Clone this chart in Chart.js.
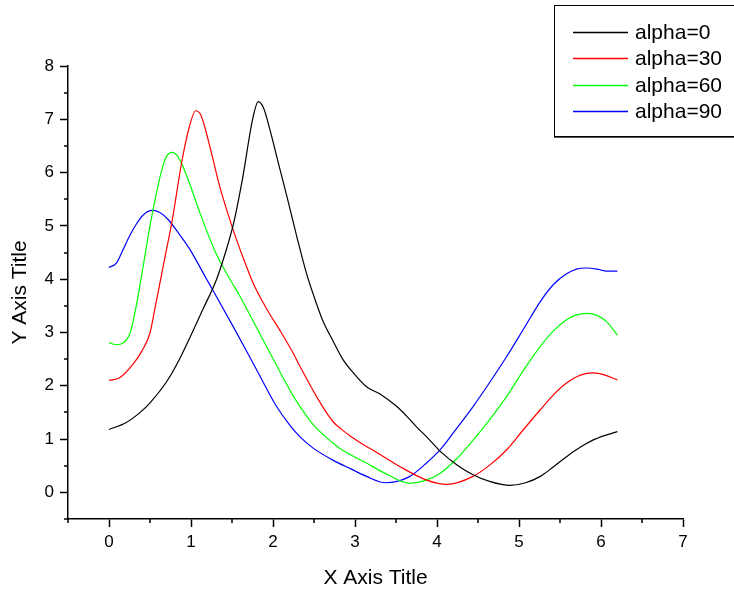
<!DOCTYPE html>
<html>
<head>
<meta charset="utf-8">
<script src="https://cdn.jsdelivr.net/npm/chart.js@4/dist/chart.umd.min.js"></script>
<style>
  html, body { margin: 0; padding: 0; background: #fff; }
  #wrap { width: 734px; height: 592px; position: relative; }
</style>
</head>
<body>
<div id="wrap"><canvas id="c" width="734" height="592"></canvas></div>
<script>
// ---- data ----
const seriesNames = ['alpha=0', 'alpha=30', 'alpha=60', 'alpha=90'];
const seriesColors = ['#000000', '#ff0000', '#00ff00', '#0000ff'];

const alpha0X = [0, 0.2, 0.38, 0.5, 0.7, 0.85, 1.0, 1.15, 1.31, 1.42, 1.52, 1.63, 1.75, 1.82, 1.885, 1.963, 2.07, 2.17, 2.29, 2.41, 2.49, 2.6, 2.735, 2.85, 2.98, 3.14, 3.3, 3.51, 3.63, 3.75, 3.9, 4.04, 4.24, 4.44, 4.65, 4.89, 5.08, 5.26, 5.42, 5.58, 5.75, 5.9, 6.05, 6.2];
const alpha0Y = [1.18, 1.3, 1.5, 1.68, 2.07, 2.47, 2.95, 3.45, 3.99, 4.5, 5.05, 5.9, 6.99, 7.33, 7.21, 6.8, 6.15, 5.55, 4.8, 4.1, 3.72, 3.25, 2.83, 2.5, 2.24, 1.98, 1.85, 1.61, 1.43, 1.23, 1.0, 0.77, 0.52, 0.33, 0.2, 0.13, 0.18, 0.3, 0.48, 0.67, 0.85, 0.98, 1.07, 1.14];

const alpha30X = [0, 0.13, 0.3, 0.4, 0.5, 0.56, 0.62, 0.7, 0.765, 0.885, 0.98, 1.057, 1.12, 1.23, 1.35, 1.515, 1.6, 1.76, 1.92, 2.1, 2.25, 2.33, 2.53, 2.65, 2.735, 2.82, 2.95, 3.14, 3.22, 3.55, 3.875, 4.12, 4.44, 4.65, 4.85, 5.05, 5.26, 5.42, 5.58, 5.75, 5.9, 6.05, 6.2];
const alpha30Y = [2.1, 2.15, 2.42, 2.65, 2.99, 3.45, 3.92, 4.55, 5.05, 6.18, 6.86, 7.16, 7.08, 6.49, 5.74, 4.92, 4.55, 3.92, 3.45, 3.0, 2.6, 2.36, 1.8, 1.5, 1.32, 1.2, 1.05, 0.86, 0.79, 0.48, 0.23, 0.15, 0.3, 0.52, 0.8, 1.17, 1.55, 1.83, 2.05, 2.2, 2.24, 2.2, 2.11];

const alpha60X = [0, 0.09, 0.17, 0.26, 0.32, 0.39, 0.5, 0.634, 0.7, 0.77, 0.845, 0.95, 1.11, 1.3, 1.475, 1.6, 1.92, 2.25, 2.33, 2.49, 2.735, 2.82, 3.14, 3.4, 3.67, 3.85, 4.04, 4.24, 4.44, 4.65, 4.85, 5.05, 5.26, 5.42, 5.58, 5.7, 5.825, 5.95, 6.07, 6.2];
const alpha60Y = [2.81, 2.77, 2.8, 3.0, 3.4, 4.0, 5.0, 5.99, 6.3, 6.38, 6.29, 5.93, 5.24, 4.5, 4.0, 3.67, 2.74, 1.8, 1.61, 1.27, 0.92, 0.82, 0.55, 0.33, 0.17, 0.22, 0.36, 0.63, 0.98, 1.38, 1.8, 2.28, 2.74, 3.03, 3.24, 3.33, 3.36, 3.32, 3.2, 2.95];

const alpha90X = [0, 0.09, 0.17, 0.26, 0.34, 0.42, 0.53, 0.62, 0.72, 0.85, 0.99, 1.19, 1.25, 1.515, 1.8, 2.04, 2.2, 2.33, 2.49, 2.735, 2.95, 3.14, 3.37, 3.5, 3.67, 3.85, 4.04, 4.24, 4.44, 4.65, 4.85, 5.05, 5.26, 5.42, 5.58, 5.7, 5.82, 5.95, 6.07, 6.2];
const alpha90Y = [4.22, 4.3, 4.55, 4.84, 5.05, 5.21, 5.29, 5.25, 5.12, 4.86, 4.55, 4.0, 3.84, 3.11, 2.3, 1.62, 1.27, 1.04, 0.83, 0.6, 0.44, 0.3, 0.18, 0.2, 0.3, 0.52, 0.8, 1.2, 1.61, 2.08, 2.55, 3.05, 3.58, 3.9, 4.1, 4.19, 4.21, 4.19, 4.15, 4.15];

const xTickValues = [0, 1, 2, 3, 4, 5, 6, 7];
const yTickValues = [0, 1, 2, 3, 4, 5, 6, 7, 8];
const xMinorTicks = [-0.5, 0.5, 1.5, 2.5, 3.5, 4.5, 5.5, 6.5];
const yMinorTicks = [-0.5, 0.5, 1.5, 2.5, 3.5, 4.5, 5.5, 6.5, 7.5];
const xTitle = 'X Axis Title';
const yTitle = 'Y Axis Title';

// ---- build datasets ----
const allX = [alpha0X, alpha30X, alpha60X, alpha90X];
const allY = [alpha0Y, alpha30Y, alpha60Y, alpha90Y];
const datasets = seriesNames.map((name, i) => ({
  label: name,
  data: allX[i].map((x, k) => ({ x: x, y: allY[i][k] })),
  borderColor: seriesColors[i],
  backgroundColor: seriesColors[i],
  borderWidth: 1.2,
  pointRadius: 0,
  cubicInterpolationMode: 'monotone',
  fill: false
}));

const FONT = "'Liberation Sans', Arial, sans-serif";

const extras = {
  id: 'extras',
  afterDraw(chart) {
    const ctx = chart.ctx;
    const xs = chart.scales.x, ys = chart.scales.y;
    ctx.save();
    ctx.strokeStyle = '#000';
    ctx.lineWidth = 1.5;
    ctx.beginPath();
    xMinorTicks.forEach(v => {
      const px = Math.round(xs.getPixelForValue(v));
      ctx.moveTo(px, xs.top);
      ctx.lineTo(px, xs.top + 4);
    });
    yMinorTicks.forEach(v => {
      const py = Math.round(ys.getPixelForValue(v));
      ctx.moveTo(ys.right, py);
      ctx.lineTo(ys.right - 4, py);
    });
    ctx.stroke();

    // legend box
    ctx.lineWidth = 1;
    ctx.strokeStyle = '#000';
    ctx.strokeRect(554.5, 5.5, 200, 131);
    ctx.beginPath();
    ctx.moveTo(554, 137.5);
    ctx.lineTo(734, 137.5);
    ctx.strokeStyle = '#555';
    ctx.stroke();
    ctx.font = '21px ' + FONT;
    ctx.textBaseline = 'middle';
    ctx.textAlign = 'left';
    const rowY = [32, 58, 85, 111];
    seriesNames.forEach((name, i) => {
      ctx.strokeStyle = seriesColors[i];
      ctx.lineWidth = 1.5;
      ctx.beginPath();
      ctx.moveTo(573, rowY[i] + 0.5);
      ctx.lineTo(628, rowY[i] + 0.5);
      ctx.stroke();
      ctx.fillStyle = '#000';
      ctx.fillText(name, 635, rowY[i] + 1);
    });
    ctx.restore();
  }
};

new Chart(document.getElementById('c'), {
  type: 'line',
  data: { datasets },
  options: {
    responsive: false,
    animation: false,
    devicePixelRatio: 1,
    layout: { padding: { top: 66, right: 51, bottom: 0, left: 0 } },
    plugins: { legend: { display: false }, tooltip: { enabled: false } },
    scales: {
      x: {
        type: 'linear',
        min: -0.5,
        max: 7,
        afterBuildTicks: s => { s.ticks = xTickValues.map(v => ({ value: v })); },
        afterFit: s => { s.height = 73; },
        border: { display: true, color: '#000', width: 1.5 },
        grid: { drawOnChartArea: false, drawTicks: true, tickLength: 8, tickColor: '#000', tickWidth: 1.5 },
        ticks: { color: '#000', font: { family: FONT, size: 17 }, padding: 5, maxRotation: 0 },
        title: { display: true, text: xTitle, color: '#000', font: { family: FONT, size: 21 }, padding: { top: 0, bottom: 1 } }
      },
      y: {
        type: 'linear',
        min: -0.5,
        max: 8,
        afterBuildTicks: s => { s.ticks = yTickValues.map(v => ({ value: v })); },
        afterFit: s => { s.width = 68; },
        border: { display: true, color: '#000', width: 1.5 },
        grid: { drawOnChartArea: false, drawTicks: true, tickLength: 8, tickColor: '#000', tickWidth: 1.5 },
        ticks: { color: '#000', font: { family: FONT, size: 17 }, padding: 6 },
        title: { display: true, text: yTitle, color: '#000', font: { family: FONT, size: 21 }, padding: { top: 8, bottom: 0 } }
      }
    }
  },
  plugins: [extras]
});
</script>
</body>
</html>
